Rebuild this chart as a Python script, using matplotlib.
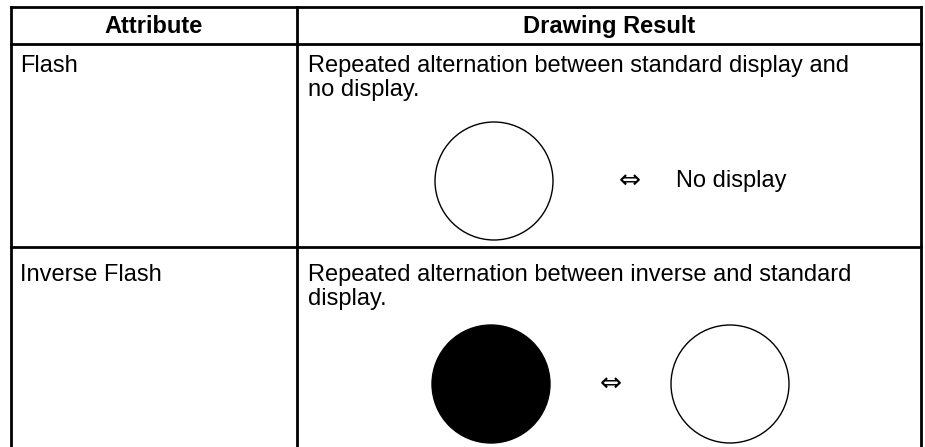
import matplotlib.pyplot as plt
from matplotlib.patches import Circle

# --- table content ---
headers = ['Attribute', 'Drawing Result']
attributes = ['Flash', 'Inverse Flash']
descriptions = [
    'Repeated alternation between standard display and\nno display.',
    'Repeated alternation between inverse and standard\ndisplay.',
]
# what is drawn on each side of the arrow: 'open', 'filled' or a text
left_items = ['open', 'filled']
right_items = ['No display', 'open']

plt.rcParams['font.family'] = ['Liberation Sans', 'DejaVu Sans']

W, H = 925, 447
fig = plt.figure(figsize=(W / 100, H / 100), dpi=100)
ax = fig.add_axes([0, 0, 1, 1])
ax.set_xlim(0, W)
ax.set_ylim(H, 0)
ax.axis('off')

# grid geometry (pixels)
x_left, x_mid, x_right = 11, 297, 921
y_top, y_head = 7, 44
row_bottoms = [247, 447]
lw = 2

# borders
ax.plot([x_left, x_right], [y_top, y_top], color='black', lw=lw, solid_capstyle='projecting')
ax.plot([x_left, x_right], [y_head, y_head], color='black', lw=lw)
ax.plot([x_left, x_right], [row_bottoms[0], row_bottoms[0]], color='black', lw=lw)
for x in (x_left, x_mid, x_right):
    ax.plot([x, x], [y_top, H], color='black', lw=lw)

fs = 17
ax.text((x_left + x_mid) / 2, (y_top + y_head) / 2 + 1, headers[0], ha='center', va='center',
        fontsize=fs, fontweight='bold')
ax.text((x_mid + x_right) / 2, (y_top + y_head) / 2 + 1, headers[1], ha='center', va='center',
        fontsize=fs, fontweight='bold')

text_tops = [55, 264]
circle_cy = [181, 384]
left_cx = [494, 491]
arrow_x = [630, 611]
right_x = [676, 730]
r = 59

for i in range(len(attributes)):
    top = text_tops[i]
    ax.text(x_left + 9, top, attributes[i], ha='left', va='top', fontsize=fs)
    ax.text(x_mid + 11, top, descriptions[i], ha='left', va='top', fontsize=fs,
            linespacing=1.1)
    cy = circle_cy[i]

    def draw(item, x, ha):
        if item == 'open':
            ax.add_patch(Circle((x, cy), r, facecolor='white', edgecolor='black', lw=1))
        elif item == 'filled':
            ax.add_patch(Circle((x, cy), r, facecolor='black', edgecolor='black', lw=1))
        else:
            ax.text(x, cy, item, ha=ha, va='center', fontsize=fs)

    draw(left_items[i], left_cx[i], 'center')
    ax.text(arrow_x[i], cy, '\u21d4', ha='center', va='center', fontsize=19,
            family=['DejaVu Sans'])
    draw(right_items[i], right_x[i], 'left')

fig.savefig('out.png', dpi=100)
